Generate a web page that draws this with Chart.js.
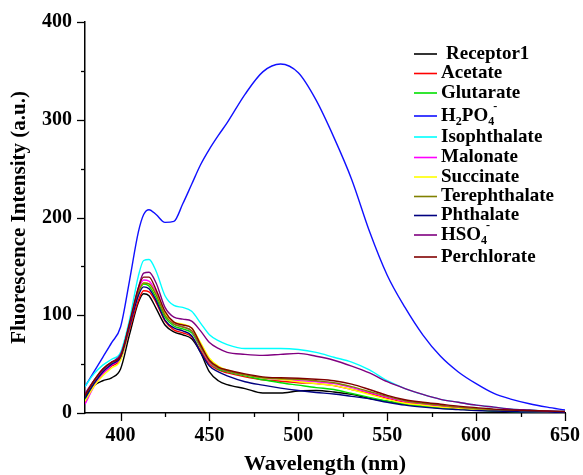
<!DOCTYPE html>
<html>
<head>
<meta charset="utf-8">
<script src="https://cdn.jsdelivr.net/npm/chart.js@4.4.0/dist/chart.umd.min.js"></script>
<style>
  html, body { margin: 0; padding: 0; background: #fff; }
</style>
</head>
<body>
<canvas id="spectra" width="583" height="475"></canvas>
<script>
// emission wavelength grid (nm)
const wavelength = [380, 385, 390, 395, 400, 405, 410, 413, 416, 420, 425, 430, 435, 440, 445, 450, 455, 460, 470, 480,
                    490, 500, 510, 520, 530, 540, 550, 560, 570, 580, 590, 600, 610, 620, 630, 640, 650];

// fluorescence intensity (a.u.) per anion
const receptor1 = [17, 28, 33, 36, 45, 80, 113, 122, 120, 107, 90, 83, 80, 76, 62, 42, 33, 29, 25, 20.5,
                   20.5, 22.5, 23, 21.5, 19, 15, 12, 9, 7, 5, 4, 3, 2, 1.5, 1, 0.5, 0];
const acetate = [10, 28, 40, 48, 55, 85, 115, 125, 124, 113, 94, 85, 82, 78, 64, 50, 44, 41, 37, 34,
                 32.5, 31, 30, 28, 24, 20, 15, 11, 9, 7, 5, 4, 3, 2, 1.5, 1, 0.5];
const glutarate = [14, 30, 42, 50, 57, 90, 122, 132, 130, 118, 98, 89, 86, 82, 67, 52, 45, 42, 38, 34,
                   31, 28.5, 26, 24, 20, 16, 12, 9, 7, 5, 4, 3, 2, 1.5, 1, 0.5, 0];
const h2po4 = [27, 42, 57, 72, 88, 135, 185, 203, 208, 203, 195, 196, 214, 234, 254, 270, 284, 297, 326, 349,
               357, 348, 320, 282, 239, 186, 141, 108, 80, 58, 42, 30, 20, 14, 9.5, 6, 3];
const isophthalate = [27, 40, 49, 55, 62, 95, 140, 156, 157, 145, 120, 110, 108, 104, 92, 80, 74, 70, 66, 66,
                      66, 65, 62, 57, 52, 44, 33, 25, 19, 14, 11, 8, 6, 4, 3, 2, 1.5];
const malonate = [9, 27, 40, 49, 57, 90, 125, 136, 135, 123, 101, 91, 88, 84, 68, 52, 46, 43, 39, 36,
                  34.5, 33, 32, 30, 26, 21, 16, 12, 9.5, 7.5, 6, 4.5, 3.5, 2.5, 2, 1.5, 1];
const succinate = [12, 27, 38, 46, 54, 88, 122, 133, 132, 121, 102, 93, 91, 87, 72, 56, 48, 44, 39, 36,
                   34.5, 32, 30, 28, 24, 19, 14, 10, 8, 6, 4.5, 3.5, 2.5, 2, 1.5, 1, 0.5];
const terephthalate = [18, 33, 45, 52, 58, 90, 123, 133, 132, 121, 100, 91, 88, 84, 68, 53, 46, 43, 39, 36,
                       35, 34.5, 33, 31, 27, 22, 17, 12.5, 10, 8, 6, 4.5, 3.5, 2.5, 2, 1.5, 1];
const phthalate = [15, 30, 42, 50, 57, 88, 120, 129, 127, 115, 95, 87, 84, 79, 62, 48, 42, 38, 32, 28.5,
                   25.5, 23, 21, 19.5, 17, 14.5, 11, 8, 6, 4.5, 3.5, 2.5, 2, 1.5, 1, 1, 0.5];
const hso4 = [20, 33, 44, 52, 60, 90, 128, 143, 144, 133, 108, 98, 96, 94, 84, 72, 66, 62, 60, 59,
              60, 61, 58, 54, 48, 41, 32, 25, 19, 14, 11, 8, 6, 4, 3, 2, 1.5];
const perchlorate = [18, 33, 45, 52, 58, 92, 128, 139, 139, 126, 104, 93, 90, 87, 70, 54, 47, 44, 40, 37,
                     36, 35.5, 34.5, 33, 29.5, 24, 18, 13.5, 11, 9, 7, 5.5, 4, 3, 2.5, 2, 1.5];

const seriesNames = ['Receptor1', 'Acetate', 'Glutarate', 'H2PO4-', 'Isophthalate', 'Malonate',
                     'Succinate', 'Terephthalate', 'Phthalate', 'HSO4-', 'Perchlorate'];
const seriesValues = [receptor1, acetate, glutarate, h2po4, isophthalate, malonate,
                      succinate, terephthalate, phthalate, hso4, perchlorate];
const seriesColors = ['#000000', '#ff0000', '#00e000', '#1010ff', '#00ffff', '#ff00ff',
                      '#ffff00', '#808000', '#000080', '#800080', '#800000'];

const xTicks = [400, 450, 500, 550, 600, 650];
const yTicks = [0, 100, 200, 300, 400];

const FONT = "'Liberation Serif', 'Times New Roman', serif";

// ===============================
// minor + major tick marks
// ===============================
const tickMarks = {
    id: 'tickMarks',
    afterDraw(chart) {
        const {ctx, chartArea, scales} = chart;
        ctx.save();
        ctx.strokeStyle = '#000';
        ctx.lineWidth = 1.3;
        for (let v = 400; v <= 650; v += 25) {
            const x = Math.round(scales.x.getPixelForValue(v)) + 0.5;
            const len = v % 50 === 0 ? 8 : 4;
            ctx.beginPath();
            ctx.moveTo(x, chartArea.bottom);
            ctx.lineTo(x, chartArea.bottom + len);
            ctx.stroke();
        }
        for (let v = 0; v <= 400; v += 50) {
            const y = Math.round(scales.y.getPixelForValue(v)) + 0.5;
            const len = v % 100 === 0 ? 8 : 4;
            ctx.beginPath();
            ctx.moveTo(chartArea.left, y);
            ctx.lineTo(chartArea.left - len, y);
            ctx.stroke();
        }
        ctx.restore();
    }
};

// ===============================
// legend inside the plot (with sub/superscripts)
// ===============================
const legendBox = {
    id: 'legendBox',
    afterDraw(chart) {
        const ctx = chart.ctx;
        const rowY = [54, 73.5, 93, 116, 137, 157.5, 177, 196.5, 215.5, 235, 257];
        ctx.save();
        ctx.textBaseline = 'middle';
        ctx.fillStyle = '#000';
        seriesNames.forEach((name, i) => {
            const y = rowY[i];
            ctx.strokeStyle = seriesColors[i];
            ctx.lineWidth = 1.6;
            ctx.beginPath();
            ctx.moveTo(414, y);
            ctx.lineTo(437, y);
            ctx.stroke();

            let x = i === 0 ? 446 : 441;
            const big = 'bold 19px ' + FONT;
            const small = 'bold 12px ' + FONT;
            if (name === 'H2PO4-' || name === 'HSO4-') {
                const parts = name === 'H2PO4-' ? [['H', 0], ['2', 1], ['PO', 0], ['4', 1]] : [['HSO', 0], ['4', 1]];
                parts.forEach(([t, sub]) => {
                    ctx.font = sub ? small : big;
                    ctx.fillText(t, x, sub ? y + 6 : y);
                    x += ctx.measureText(t).width;
                });
                ctx.font = small;
                ctx.fillText('-', x - 1, y - 9);
            } else {
                ctx.font = big;
                ctx.fillText(name, x, y);
            }
        });
        ctx.restore();
    }
};

new Chart(document.getElementById('spectra').getContext('2d'), {
    type: 'line',
    data: {
        datasets: seriesNames.map((name, i) => ({
            label: name,
            data: wavelength.map((w, j) => ({x: w, y: seriesValues[i][j]})),
            borderColor: seriesColors[i],
            borderWidth: 1.4,
            pointRadius: 0,
            cubicInterpolationMode: 'monotone',
            fill: false
        })).reverse()
    },
    options: {
        responsive: false,
        animation: false,
        devicePixelRatio: 1,
        layout: { padding: { top: 22, right: 16, left: 0, bottom: 0 } },
        plugins: { legend: { display: false }, tooltip: { enabled: false } },
        scales: {
            x: {
                type: 'linear',
                min: 380,
                max: 650,
                afterBuildTicks: s => { s.ticks = xTicks.map(v => ({value: v})); },
                afterFit: s => { s.height = 62; },
                grid: { display: false, drawTicks: true, tickLength: 8 },
                border: { display: true, color: '#000', width: 1.5 },
                ticks: { color: '#000', padding: 3, maxRotation: 0, font: { family: FONT, size: 20, weight: 'bold' } },
                title: {
                    display: true, text: 'Wavelength (nm)', color: '#000',
                    padding: { top: 0, bottom: 0 },
                    font: { family: FONT, size: 22, weight: 'bold', lineHeight: 1.0 }
                }
            },
            y: {
                min: 0,
                max: 400,
                afterBuildTicks: s => { s.ticks = yTicks.map(v => ({value: v})); },
                afterFit: s => { s.width = 85; },
                grid: { display: false, drawTicks: true, tickLength: 8 },
                border: { display: true, color: '#000', width: 1.5 },
                ticks: { color: '#000', padding: 5, font: { family: FONT, size: 20, weight: 'bold' } },
                title: {
                    display: true, text: 'Fluorescence Intensity (a.u.)', color: '#000',
                    padding: { top: 9, bottom: 0 },
                    font: { family: FONT, size: 21, weight: 'bold', lineHeight: 1.0 }
                }
            }
        }
    },
    plugins: [tickMarks, legendBox]
});
</script>
</body>
</html>
